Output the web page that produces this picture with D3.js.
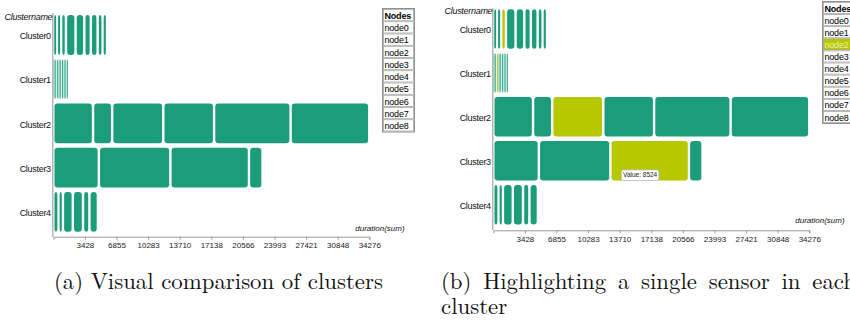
<!DOCTYPE html>
<html><head><meta charset="utf-8">
<script src="https://cdn.jsdelivr.net/npm/d3@7"></script>
<style>body{margin:0;background:#fff} svg{display:block}</style>
</head><body>
<svg id="c" width="850" height="320"></svg>
<script>
// ---- data ----
const clusterNames = ["Cluster0","Cluster1","Cluster2","Cluster3","Cluster4"];
const nodeNames = ["node0","node1","node2","node3","node4","node5","node6","node7","node8"];
const cluster0Nodes = ["node0","node1","node2","node3","node4","node5","node6","node7","node8"];
const cluster0Values = [407, 445, 521, 1042, 949, 705, 738, 543, 467];
const cluster1Nodes = ["node0","node1","node2","node3","node4","node5","node6","node7","node8"];
const cluster1Values = [170, 185, 175, 190, 165, 200, 180, 185, 175];
const cluster2Nodes = ["node0","node1","node2","node3","node4","node5"];
const cluster2Values = [4312, 2074, 5545, 5512, 8296, 8537];
const cluster3Nodes = ["node0","node1","node2","node3"];
const cluster3Values = [4940, 7760, 8524, 1470];
const cluster4Nodes = ["node0","node1","node3","node4","node5","node6"];
const cluster4Values = [570, 472, 1074, 1107, 694, 922];
const tickValues = [3428, 6855, 10283, 13710, 17138, 20566, 23993, 27421, 30848, 34276];
const highlightNode = "node2";
const tooltipCluster = "Cluster3";
const captionA = "(a) Visual comparison of clusters";
const captionB1 = "(b) Highlighting a single sensor in each";
const captionB2 = "cluster";

const clusterData = [
  [cluster0Nodes, cluster0Values],
  [cluster1Nodes, cluster1Values],
  [cluster2Nodes, cluster2Values],
  [cluster3Nodes, cluster3Values],
  [cluster4Nodes, cluster4Values]
].map(([ns, vs], i) => {
  let acc = 0;
  return {name: clusterNames[i], segs: vs.map((v, j) => {
    const s = {node: ns[j], value: v, start: acc, end: acc + v}; acc += v; return s; })};
});
const maxTotal = d3.max(clusterData, c => d3.sum(c.segs, s => s.value));

const TEAL = "#1b9d7b", HIL = "#b8c800";
const svg = d3.select("#c");
const sans = "'Liberation Sans', Arial, sans-serif";

function drawPanel(o) {
  const g = svg.append("g");
  const W = 316;
  const xs = d3.scaleLinear().domain([0, maxTotal]).range([o.x0, o.x0 + W]);
  const ys = d3.scaleBand().domain(clusterNames)
    .range([o.bandTop, o.bandTop + 5 * o.step]).paddingInner(0.1).paddingOuter(0.05);

  const pad = 1.2;
  clusterData.forEach(c => {
    g.append("g").selectAll("rect").data(c.segs).join("rect")
      .each(function(s) {
        const a = xs(s.start), b = xs(s.end), w = b - a;
        let bw = w - 2 * pad;
        if (bw < w * 0.5) bw = w * 0.5;
        d3.select(this).attr("x", a + (w - bw) / 2).attr("width", bw);
      })
      .attr("y", ys(c.name)).attr("height", ys.bandwidth())
      .attr("rx", 3).attr("ry", 3)
      .attr("fill", s => (o.highlight && s.node === highlightNode) ? HIL : TEAL);
  });

  g.append("line").attr("x1", o.x0 - 0.5).attr("x2", o.x0 - 0.5)
    .attr("y1", o.vTop).attr("y2", o.axisY)
    .attr("stroke", "#aaa").attr("stroke-width", 1.3);

  g.append("g").selectAll("text").data(clusterNames).join("text")
    .attr("x", o.x0 - 2.5).attr("y", d => ys(d) + ys.bandwidth() / 2 + 1)
    .attr("dy", "0.35em").attr("text-anchor", "end")
    .style("font", "9px " + sans).style("letter-spacing", "-0.3px").attr("fill", "#111")
    .text(d => d);
  g.append("text").attr("x", o.x0 - 1).attr("y", o.titleY).attr("text-anchor", "end")
    .style("font", "italic 9px " + sans).style("letter-spacing", "-0.3px").attr("fill", "#111")
    .text("Clustername");

  const ax = g.append("g").attr("transform", `translate(0,${o.axisY})`)
    .call(d3.axisBottom(xs).tickValues(tickValues).tickFormat(d3.format("d"))
      .tickSize(3).tickSizeOuter(3).tickPadding(3));
  ax.select(".domain").attr("stroke", "#999");
  ax.selectAll(".tick line").attr("stroke", "#999");
  ax.selectAll(".tick text").style("font", "8px " + sans).attr("fill", "#222");

  g.append("text").attr("x", o.x0 + W - 14).attr("y", o.durY)
    .style("font", "italic 8px " + sans).attr("fill", "#111").text("duration(sum)");

  const rows = ["Nodes"].concat(nodeNames);
  const lw = 32, rh = o.rowH;
  const lg = g.append("g").attr("transform", `translate(${o.tx},${o.ty})`);
  lg.append("rect").attr("x", 0).attr("y", 0).attr("width", lw).attr("height", rh * rows.length + 1)
    .attr("fill", "#fff").attr("stroke", "#777").attr("stroke-width", 0.8);
  const r = lg.selectAll("g.r").data(rows).join("g").attr("class", "r")
    .attr("transform", (d, i) => `translate(0,${i * rh})`);
  r.append("rect").attr("x", 1).attr("y", 1).attr("width", lw - 2).attr("height", rh - 1)
    .attr("fill", d => (o.highlight && d === highlightNode) ? HIL : "#fff")
    .attr("stroke", "#999").attr("stroke-width", 0.7);
  r.append("text").attr("x", 2).attr("y", rh / 2 + 1).attr("dy", "0.35em")
    .style("font", (d, i) => (i === 0 ? "bold " : "") + "9px " + sans)
    .style("letter-spacing", "-0.2px")
    .attr("fill", d => (o.highlight && d === highlightNode) ? "#eef3b0" : "#000")
    .text(d => d);

  if (o.highlight) {
    const c = clusterData.find(c => c.name === tooltipCluster);
    const s = c.segs.find(s => s.node === highlightNode);
    const tx = xs(s.start) + 11, ty = ys(c.name) + ys.bandwidth() - 10.6;
    const tg = g.append("g").attr("transform", `translate(${tx},${ty})`);
    tg.append("rect").attr("width", 37.5).attr("height", 10.6).attr("rx", 2)
      .attr("fill", "#fff").attr("stroke", "#bbb").attr("stroke-width", 0.8);
    tg.append("text").attr("x", 18.75).attr("y", 5.3).attr("dy", "0.35em").attr("text-anchor", "middle")
      .style("font", "6.5px " + sans).attr("fill", "#222").text("Value: " + s.value);
  }
}

drawPanel({x0: 53.3, bandTop: 12.9, step: 44.2, axisY: 236.7, vTop: 13, titleY: 20,
           durY: 230.5, tx: 382.5, ty: 8.5, rowH: 12.25, highlight: false});
drawPanel({x0: 493.3, bandTop: 7.1, step: 43.9, axisY: 230.3, vTop: 8, titleY: 14,
           durY: 222.5, tx: 822.5, ty: 1.5, rowH: 12.1, highlight: true});

// ---- pick an installed serif font for the captions ----
function hasFont(name) {
  const probe = svg.append("text").attr("font-size", 40).text("mmmmmwwllii(a)Visual");
  probe.attr("font-family", "monospace");
  const w0 = probe.node().getComputedTextLength();
  probe.attr("font-family", `"${name}", monospace`);
  const w1 = probe.node().getComputedTextLength();
  probe.remove();
  return Math.abs(w1 - w0) > 0.5;
}
const serifCandidates = ["Latin Modern Roman", "CMU Serif", "Liberation Serif", "Tinos", "Times New Roman",
  "DejaVu Serif", "Noto Serif", "Nimbus Roman", "FreeSerif", "Georgia"];
const serifPick = serifCandidates.find(hasFont);
const serifFam = serifPick ? `"${serifPick}", serif` : "serif";

function cap(t, x, y, fs) {
  return svg.append("text").attr("x", x).attr("y", y)
    .attr("font-family", serifFam).attr("font-size", fs).attr("fill", "#111").text(t);
}
// size caption (a) so that its natural width matches the reference
const probeA = cap(captionA, 54, 289, 24);
const fs = 24 * 329 / probeA.node().getComputedTextLength();
probeA.attr("font-size", fs);

// caption (b): first line justified across the subfigure width, second line natural
(function justified(text, x0, x1, y) {
  const words = text.split(" ");
  const ws = words.map(w => { const t = cap(w, 0, -100, fs); const l = t.node().getComputedTextLength(); t.remove(); return l; });
  const gap = (x1 - x0 - d3.sum(ws)) / (words.length - 1);
  const g = svg.append("text").attr("y", y).attr("font-family", serifFam).attr("font-size", fs).attr("fill", "#111");
  let x = x0;
  words.forEach((w, i) => { g.append("tspan").attr("x", x).text(w); x += ws[i] + gap; });
})(captionB1, 441, 856, 289);
cap(captionB2, 441, 314, fs);
</script>
</body></html>
